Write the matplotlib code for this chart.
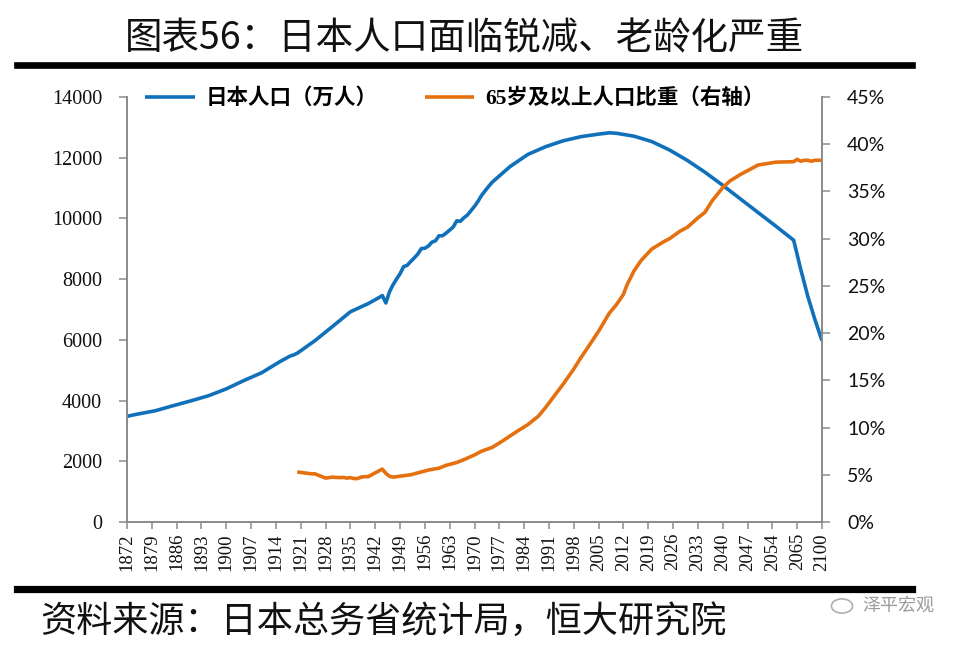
import matplotlib
matplotlib.use("Agg")
import matplotlib.pyplot as plt
from matplotlib.lines import Line2D
from matplotlib.patches import Circle

# ---------------- data ----------------
categories = list(range(1872, 2061)) + list(range(2065, 2101, 5))

pop_years = [1872, 1875, 1880, 1885, 1890, 1895, 1900, 1905, 1910, 1915, 1918, 1919, 1920,
             1921, 1925, 1930, 1935, 1940, 1943, 1944, 1945, 1946, 1947, 1948, 1949, 1950,
             1951, 1952, 1953, 1954, 1955, 1956, 1957, 1958, 1959, 1960, 1961, 1962, 1963,
             1964, 1965, 1966, 1967, 1968, 1969, 1970, 1971, 1972, 1973, 1974, 1975, 1980,
             1985, 1990, 1995, 2000, 2005, 2008, 2010, 2015, 2020, 2025, 2030, 2035, 2040,
             2045, 2050, 2055, 2060, 2065, 2070, 2075, 2080, 2085, 2090, 2095, 2100]
pop_values = [3481, 3555, 3665, 3831, 3990, 4160, 4385, 4662, 4918, 5275, 5467, 5503, 5560,
              5640, 5974, 6445, 6925, 7193, 7388, 7460, 7215, 7575, 7810, 8000, 8177, 8412,
              8454, 8581, 8698, 8824, 9008, 9017, 9093, 9218, 9264, 9430, 9429, 9518, 9616,
              9718, 9921, 9904, 10020, 10113, 10254, 10400, 10565, 10760, 10910, 11057, 11194, 11706,
              12105, 12361, 12557, 12693, 12777, 12820, 12806, 12709, 12532, 12254, 11913, 11522, 11092,
              10642, 10192, 9744, 9284, 8808, 8323, 7880, 7433, 7050, 6668, 6320, 5972]

old_years = [1920, 1921, 1922, 1923, 1924, 1925, 1926, 1927, 1928, 1929, 1930, 1931, 1932,
             1933, 1934, 1935, 1936, 1937, 1938, 1939, 1940, 1941, 1942, 1943, 1944, 1945,
             1946, 1947, 1948, 1949, 1950, 1952, 1954, 1955, 1957, 1960, 1962, 1965, 1967,
             1970, 1972, 1975, 1978, 1980, 1982, 1985, 1988, 1990, 1992, 1995, 1998, 2000,
             2002, 2005, 2008, 2010, 2012, 2013, 2015, 2017, 2018, 2020, 2023, 2025, 2028,
             2030, 2033, 2035, 2037, 2040, 2042, 2045, 2048, 2050, 2055, 2060, 2065, 2070,
             2075, 2080, 2085, 2090, 2095, 2100]
old_values = [5.3, 5.25, 5.2, 5.15, 5.1, 5.1, 4.95, 4.8, 4.65, 4.7, 4.75, 4.72, 4.7,
              4.72, 4.65, 4.7, 4.6, 4.6, 4.75, 4.8, 4.8, 5.0, 5.2, 5.4, 5.6, 5.15,
              4.85, 4.75, 4.8, 4.85, 4.9, 5.0, 5.2, 5.3, 5.5, 5.7, 6.0, 6.3, 6.6,
              7.1, 7.5, 7.9, 8.6, 9.1, 9.6, 10.3, 11.2, 12.1, 13.1, 14.6, 16.2, 17.4,
              18.5, 20.2, 22.1, 23.0, 24.1, 25.1, 26.6, 27.7, 28.1, 28.9, 29.6, 30.0, 30.8,
              31.2, 32.2, 32.8, 34.0, 35.4, 36.1, 36.8, 37.4, 37.8, 38.1, 38.15, 38.4, 38.2,
              38.3, 38.3, 38.2, 38.3, 38.3, 38.3]

xtick_labels = [str(c) for c in categories[::7]]

title = "图表56：日本人口面临锐减、老龄化严重"
source = "资料来源：日本总务省统计局，恒大研究院"
label_pop = "日本人口（万人）"
label_old = "65岁及以上人口比重（右轴）"
watermark = "泽平宏观"

# ---------------- style ----------------
BLUE = "#1170BA"
ORANGE = "#E5700F"
GRAY = "#8A8A8A"
SERIF = ["Liberation Serif", "Noto Sans CJK SC"]
CJK = ["Noto Sans CJK SC", "DejaVu Sans"]

plt.rcParams["font.family"] = SERIF

fig = plt.figure(figsize=(9.6, 6.46), dpi=100)
ax = fig.add_axes([127 / 960, 124 / 646, 695 / 960, 425 / 646])
ax2 = ax.twinx()

px = [categories.index(y) for y in pop_years]
ox = [categories.index(y) for y in old_years]

l1, = ax.plot(px, pop_values, color=BLUE, lw=2.6, solid_capstyle="butt", label=label_pop)
l2, = ax2.plot(ox, old_values, color=ORANGE, lw=2.6, solid_capstyle="butt", label=label_old)

ax.set_xlim(0, len(categories) - 1)
ax.set_ylim(0, 14000)
ax2.set_ylim(0, 45)

ax.set_yticks(range(0, 14001, 2000))
ax.set_yticklabels([str(v) for v in range(0, 14001, 2000)], fontsize=14.5,
                   family="Liberation Serif", color="#111111")
ax2.set_yticks(range(0, 46, 5))
ax2.set_yticklabels([f"{v}%" for v in range(0, 46, 5)], fontsize=14,
                    family="Lato", color="#111111")
ax.set_xticks(range(0, len(categories), 7))
ax.set_xticklabels(xtick_labels, rotation=90, fontsize=13.5,
                   family="Liberation Serif", color="#111111")

for a in (ax, ax2):
    a.spines["top"].set_visible(False)
    for s in ("left", "right", "bottom"):
        a.spines[s].set_color(GRAY)
        a.spines[s].set_linewidth(1.2)
ax.tick_params(axis="y", direction="out", length=6, width=1.1, color=GRAY, pad=12)
ax.tick_params(axis="x", direction="out", length=5, width=1.1, color=GRAY, pad=3)
ax2.tick_params(axis="y", direction="out", length=6, width=1.1, color=GRAY, pad=12)

leg = ax.legend(handles=[l1, l2], ncol=2, loc="center left",
                bbox_to_anchor=(145 / 960, 1 - 99 / 646), bbox_transform=fig.transFigure,
                frameon=False, handlelength=2.3, handletextpad=0.5, columnspacing=2.2,
                borderaxespad=0, borderpad=0,
                prop={"family": SERIF, "weight": "bold", "size": 15.5})

# title and rules
fig.text(0.484, 1 - 39 / 646, title, ha="center", va="center", fontsize=27,
         family=CJK, weight="light", color="#111111")
fig.add_artist(Line2D([17 / 960, 912 / 960], [1 - 65 / 646, 1 - 65 / 646],
                      color="black", lw=4.8, transform=fig.transFigure))
fig.add_artist(Line2D([17 / 960, 912 / 960], [1 - 589 / 646, 1 - 589 / 646],
                      color="black", lw=5.2, transform=fig.transFigure))

fig.text(40 / 960, 1 - 622 / 646, source, ha="left", va="center", fontsize=26,
         style="italic", weight="light", family=CJK, color="#111111")
fig.text(862 / 960, 1 - 606 / 646, watermark, ha="left", va="center", fontsize=13,
         family=CJK, color="#9A9A9A")
fig.add_artist(Circle((842 / 960, 1 - 606 / 646), 0.011, transform=fig.transFigure,
                      fill=False, ec="#B0B0B0", lw=1.2))

fig.savefig("out.png", dpi=100)
